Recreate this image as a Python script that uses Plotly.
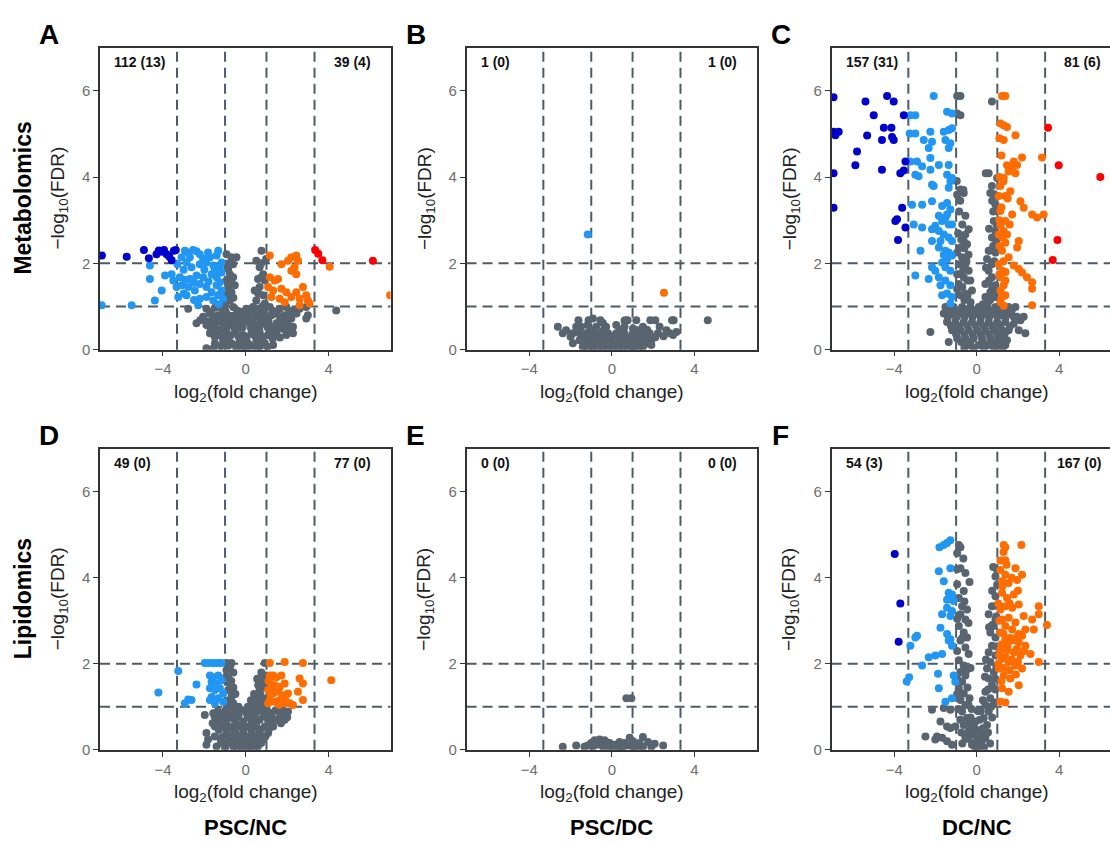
import plotly.graph_objects as go

W, H = 1110, 845
FONT = "Liberation Sans, Arial, Helvetica, sans-serif"

# ---------------- thresholds / ticks / labels ----------------
FC_LINES = [-3.32, -1.0, 1.0, 3.32]
FDR_LINES = [1.0, 2.0]
X_TICKS = [-4, 0, 4]
Y_TICKS = [0, 2, 4, 6]
PANEL_LETTERS = ["A", "B", "C", "D", "E", "F"]
ROW_LABELS = ["Metabolomics", "Lipidomics"]
COL_LABELS = ["PSC/NC", "PSC/DC", "DC/NC"]
COUNT_LEFT = ["112 (13)", "1 (0)", "157 (31)", "49 (0)", "0 (0)", "54 (3)"]
COUNT_RIGHT = ["39 (4)", "1 (0)", "81 (6)", "77 (0)", "0 (0)", "167 (0)"]

# ---------------- data (log2 fold change, -log10 FDR) ----------------
# Panel A  Metabolomics PSC/NC
A_grey = [(-0.93,2.21),(-0.69,2.14),(-0.61,1.98),(-0.85,1.87),(-0.77,1.75),(-0.93,1.60),(-0.85,1.45),(-0.69,1.33),
          (-0.93,1.26),(-0.77,1.14),(-0.98,1.07),(-0.61,1.68),(-0.53,1.49),(-0.45,2.14),
          (0.76,2.29),(0.51,2.06),(0.67,1.91),(0.84,1.75),(0.59,1.64),(0.92,1.60),(0.67,1.45),(0.43,1.37),(0.84,1.26),
          (0.51,1.14),(0.92,1.07),(0.35,0.99),(0.98,2.10),
          (-1.90,0.95),(-1.49,0.97),(-1.25,0.99),(-0.61,0.99),(0.03,0.95),(0.51,0.95),(1.16,0.99),(1.64,0.95),(1.96,0.99),
          (2.28,0.91),(2.60,0.95),
          (-2.06,0.76),(-1.73,0.84),(-1.33,0.80),(-0.93,0.84),(-0.53,0.80),(-0.13,0.76),(0.27,0.84),(0.67,0.80),(1.08,0.76),
          (1.48,0.84),(1.88,0.80),(2.20,0.72),
          (-2.38,0.61),(-1.90,0.57),(-1.49,0.61),(-1.09,0.64),(-0.69,0.57),(-0.29,0.61),(0.11,0.64),(0.51,0.57),(0.92,0.61),
          (1.32,0.53),(1.72,0.64),(2.04,0.57),(2.28,0.53),
          (-1.73,0.38),(-1.33,0.34),(-0.93,0.41),(-0.53,0.38),(-0.13,0.34),(0.27,0.38),(0.67,0.41),(1.08,0.34),(1.48,0.38),
          (1.96,0.34),
          (-1.49,0.15),(-1.09,0.18),(-0.69,0.15),(-0.29,0.18),(0.11,0.15),(0.51,0.18),(0.92,0.15),(1.32,0.11),(-0.45,0.03),
          (0.03,0.03),(0.51,0.03),
          (-2.78,0.95),(4.37,0.91),(2.92,0.99),(3.00,0.80),(2.92,0.72),(2.28,0.38),(-1.90,0.03),(-1.56,0.03),
          (-1.00,0.92),(-0.20,0.88),(0.60,0.88),(1.30,0.90),(-1.60,0.70),(-0.80,0.70),(0.00,0.70),(0.90,0.70),(1.70,0.72),
          (-1.20,0.48),(-0.40,0.48),(0.40,0.48),(1.20,0.45),(1.90,0.46),(-0.90,0.26),(-0.10,0.26),(0.70,0.26),(1.30,0.25),
          (-1.70,0.88),(-1.10,0.88),(-0.40,0.90),(0.30,0.88),(0.90,0.88),(1.50,0.88),(2.10,0.86),(2.45,0.84),
          (-1.90,0.66),(-1.50,0.77),(-1.10,0.77),(-0.70,0.78),(-0.30,0.78),(0.10,0.80),(0.50,0.76),(0.85,0.78),(1.25,0.80),
          (1.65,0.76),(2.05,0.74),
          (-2.20,0.68),(-1.75,0.62),(-1.30,0.66),(-0.90,0.62),(-0.50,0.66),(-0.10,0.63),(0.30,0.66),(0.70,0.65),(1.10,0.66),
          (1.50,0.62),(1.90,0.66),
          (-1.70,0.50),(-1.40,0.47),(-0.95,0.52),(-0.55,0.50),(-0.15,0.52),(0.25,0.50),(0.65,0.52),(1.05,0.52),(1.45,0.50),
          (1.75,0.49),(2.15,0.45),
          (-1.50,0.30),(-1.15,0.30),(-0.75,0.32),(-0.35,0.30),(0.05,0.30),(0.45,0.31),(0.85,0.30),(1.20,0.33),(1.65,0.28),
          (-1.20,0.08),(-0.85,0.09),(-0.50,0.10),(-0.15,0.08),(0.25,0.09),(0.70,0.08),(1.05,0.07),
          (-0.80,2.00),(-0.70,1.55),(-0.88,1.36),(-0.60,1.20),(0.75,2.00),(0.75,1.68),(0.60,1.30),(0.80,1.00)]
A_light = [(-2.94,2.29),(-2.78,2.25),(-2.54,2.31),(-2.38,2.28),(-2.22,2.21),(-1.82,2.25),(-1.33,2.29),(-1.41,2.18),
           (-3.10,2.14),(-2.70,2.14),(-2.06,2.12),(-1.73,2.14),
           (-4.63,1.95),(-3.30,1.98),(-2.86,2.02),(-2.62,1.91),(-2.22,1.98),(-1.90,2.02),(-1.57,1.95),(-1.25,1.91),(-1.17,2.02),
           (-4.63,1.64),(-3.90,1.72),(-3.58,1.75),(-3.18,1.68),(-2.94,1.62),(-2.70,1.64),(-2.38,1.72),(-2.06,1.68),
           (-1.65,1.75),(-1.41,1.68),(-1.17,1.79),(-3.50,1.60),
           (-4.06,1.37),(-3.34,1.45),(-3.10,1.49),(-2.78,1.45),(-2.46,1.37),(-2.22,1.52),(-1.90,1.45),(-1.65,1.33),
           (-1.41,1.49),(-1.17,1.37),(-1.25,1.56),
           (-4.39,1.14),(-3.26,1.22),(-2.86,1.26),(-2.22,1.18),(-1.90,1.22),(-1.57,1.14),(-1.33,1.26),(-1.09,1.18),
           (-2.30,1.03),(-5.51,1.03),(-6.96,1.03),
           (-3.00,1.85),(-2.00,1.85),(-1.50,1.82),(-2.50,1.55),(-1.80,1.58),(-3.00,1.30),(-2.50,1.15),(-1.30,1.05)]
A_dark = [(-6.95,2.18),(-5.75,2.15),(-4.92,2.31),(-4.68,2.12),(-4.31,2.21),(-4.06,2.27),(-3.95,2.31),(-3.82,2.21),
          (-3.58,2.07),(-3.47,2.29),(-3.38,2.31),(-4.20,2.30),(-3.70,2.16)]
A_orange = [(1.16,2.18),(1.72,1.98),(2.04,2.06),(2.20,2.14),(2.44,2.18),(2.52,2.06),(2.36,1.91),(2.20,1.83),(2.44,1.75),
            (1.16,1.68),(1.40,1.60),(1.56,1.64),(1.08,1.45),(1.32,1.37),(1.72,1.41),(1.96,1.33),(2.20,1.22),(2.44,1.33),
            (2.76,1.45),(2.92,1.26),(3.00,1.14),(2.60,1.18),(3.08,1.07),(2.60,1.03),(1.24,1.22),(1.64,1.18),(1.88,1.10),
            (4.05,1.92),(6.97,1.26)]
A_red = [(3.35,2.31),(3.50,2.22),(3.70,2.07),(6.14,2.06)]

# Panel B  Metabolomics PSC/DC
B_grey = [(-1.62,0.68),(-1.13,0.68),(-0.56,0.68),(0.65,0.68),(0.76,0.68),(1.86,0.68),(2.10,0.68),(2.91,0.68),(2.99,0.68),
          (4.64,0.68),(-0.92,0.72),(-0.44,0.62),(0.61,0.67),(1.18,0.68),
          (-2.62,0.53),(-2.22,0.45),(-1.73,0.53),(-1.49,0.53),(-1.17,0.57),(-0.76,0.53),(-0.28,0.53),(0.21,0.57),(0.61,0.53),
          (1.02,0.49),(1.50,0.53),(2.31,0.53),(2.64,0.45),(3.12,0.41),
          (-2.38,0.38),(-1.89,0.38),(-1.57,0.38),(-1.25,0.38),(-0.92,0.38),(-0.60,0.38),(-0.19,0.38),(0.21,0.38),(0.61,0.38),
          (1.02,0.38),(1.42,0.38),(1.83,0.38),(2.23,0.38),(2.80,0.38),(2.96,0.34),
          (-1.89,0.15),(-1.57,0.22),(-1.25,0.22),(-0.84,0.22),(-0.44,0.22),(-0.03,0.22),(0.37,0.22),(0.78,0.22),(1.18,0.22),
          (1.59,0.22),(1.91,0.22),
          (-1.41,0.07),(-0.92,0.07),(-0.44,0.07),(0.05,0.07),(0.53,0.07),(1.02,0.07),(1.50,0.07),(1.91,0.11),
          (-1.05,0.46),(-0.40,0.45),(0.40,0.46),(1.25,0.45),(1.70,0.46),
          (-2.00,0.30),(-1.40,0.29),(-1.05,0.31),(-0.65,0.30),(-0.30,0.29),(0.05,0.31),(0.45,0.30),(0.85,0.29),(1.30,0.31),
          (1.70,0.30),(2.10,0.29),(2.50,0.31),
          (-1.10,0.14),(-0.65,0.14),(-0.25,0.13),(0.20,0.14),(0.65,0.14),(1.00,0.13),(1.35,0.14),(1.70,0.14),
          (-1.20,0.02),(-0.70,0.02),(-0.20,0.02),(0.30,0.02),(0.80,0.02),(1.25,0.02)]
B_light = [(-1.17,2.67)]
B_dark = []
B_orange = [(2.52,1.32)]
B_red = []

# Panel C  Metabolomics DC/NC
C_grey = [(-0.95,5.88),(-0.79,5.88),(0.74,5.75),(-0.95,5.47),(-0.79,5.43),(-0.79,3.71),(-0.95,3.59),(-0.63,3.63),
          (0.58,4.09),(0.99,3.98),(0.74,3.79),(0.66,3.63),(0.91,3.36),(0.99,3.21),(0.83,2.98),(0.97,2.90),(0.91,2.75),
          (0.74,2.60),(0.58,2.29),(0.91,2.25),(0.50,2.10),(0.74,1.98),
          (-0.39,2.79),(-0.55,2.67),(-0.63,2.52),(-0.47,2.44),(-0.79,2.37),(-0.95,2.25),(-0.71,2.14),(-0.87,1.98),
          (-0.55,1.98),(-0.39,1.83),(-0.95,1.75),(-0.63,1.68),(-0.87,1.52),(-0.31,1.60),(-0.23,1.37),(-0.55,1.30),
          (-0.79,1.26),
          (0.58,1.83),(0.74,1.68),(0.42,1.52),(0.91,1.49),(0.66,1.33),(0.91,1.22),(0.42,1.22),
          (-1.52,0.99),(-1.12,0.99),(-0.71,0.99),(-0.31,0.99),(0.10,0.99),(0.50,0.99),(0.91,0.99),(1.23,0.99),(1.55,0.99),
          (1.88,0.99),
          (-1.60,0.84),(-1.20,0.84),(-0.79,0.84),(-0.39,0.84),(0.02,0.84),(0.42,0.84),(0.83,0.84),(1.23,0.80),(1.63,0.84),
          (1.96,0.76),(2.28,0.76),
          (-1.44,0.64),(-1.04,0.64),(-0.63,0.64),(-0.23,0.64),(0.18,0.64),(0.58,0.64),(0.99,0.64),(1.39,0.64),(1.80,0.60),
          (-1.20,0.45),(-0.79,0.45),(-0.39,0.45),(0.02,0.45),(0.42,0.45),(0.83,0.45),(1.23,0.45),(1.55,0.45),
          (-0.95,0.26),(-0.55,0.26),(-0.15,0.26),(0.26,0.26),(0.66,0.26),(1.07,0.26),(1.47,0.22),
          (-0.39,0.11),(0.10,0.11),(0.58,0.11),(1.07,0.11),(1.39,0.11),
          (-2.25,0.41),(-1.36,0.18),(2.04,0.45),(2.36,0.38),(2.12,0.68),
          (0.44,4.09),(-0.97,3.91),(-0.65,3.70),
          (-0.85,3.20),(-0.70,2.90),(-0.90,2.70),(-0.60,2.35),(-0.50,2.05),(-0.80,1.75),(-0.45,1.60),(-0.70,1.45),
          (-0.60,1.15),(-0.30,1.10),(0.85,3.60),(0.80,3.20),(0.95,2.50),(0.65,2.30),(0.85,2.05),(0.60,1.60),(0.85,1.35),
          (0.55,1.10),(0.30,1.05),
          (-1.35,0.92),(-0.95,0.91),(-0.50,0.92),(-0.10,0.91),(0.30,0.92),(0.70,0.91),(1.10,0.92),(1.40,0.90),(1.70,0.91),
          (-1.40,0.75),(-1.00,0.74),(-0.60,0.75),(-0.20,0.76),(0.20,0.74),(0.60,0.75),(1.00,0.76),(1.40,0.74),(1.80,0.76),
          (-1.25,0.55),(-0.85,0.54),(-0.45,0.55),(-0.05,0.56),(0.35,0.54),(0.75,0.55),(1.15,0.56),(1.60,0.53),
          (-1.00,0.36),(-0.60,0.35),(-0.20,0.36),(0.20,0.35),(0.60,0.36),(1.00,0.35),(1.35,0.36),
          (-0.75,0.18),(-0.30,0.18),(0.30,0.17),(0.80,0.18),(1.20,0.18),
          (-0.60,0.04),(-0.15,0.04),(0.35,0.04),(0.85,0.04),(1.25,0.04),
          (-0.80,3.45),(-0.55,3.10),(-0.75,2.55),(-0.40,2.20),(-0.65,1.85),(-0.95,1.40),(-0.45,1.25),
          (0.75,3.45),(0.60,2.80),(0.80,2.40),(0.45,1.90),(0.75,1.45),(0.65,1.15)]
C_light = [(-2.09,5.88),(-1.44,5.51),(-1.20,5.47),(-3.22,5.43),(-2.98,5.43),(-1.36,5.09),(-1.60,5.05),(-1.20,5.13),
           (-2.25,5.05),(-3.25,5.01),(-2.98,5.01),(-2.57,4.86),(-2.17,4.82),(-1.52,4.86),(-1.28,4.78),(-2.33,4.67),
           (-1.36,4.67),(-3.22,4.36),(-2.90,4.36),(-2.65,4.25),(-2.25,4.44),(-1.84,4.28),(-2.25,4.17),(-2.98,4.05),
           (-2.82,4.02),(-1.36,4.28),(-1.44,4.05),(-1.20,3.98),(-1.36,3.75),(-1.28,3.90),(-2.17,3.82),(-2.09,3.79),
           (-3.14,3.36),(-2.65,3.36),(-2.17,3.44),(-1.68,3.33),(-1.44,3.40),(-1.28,3.25),(-1.44,3.13),(-1.84,3.10),
           (-1.68,2.98),(-1.52,3.06),(-1.36,2.90),(-1.20,2.90),(-3.06,2.90),(-2.65,2.83),(-2.17,2.79),(-2.01,2.87),
           (-1.84,2.75),(-1.60,2.67),(-1.36,2.60),(-1.20,2.52),(-1.76,2.52),(-2.17,2.52),(-2.73,2.29),(-1.84,2.37),
           (-1.52,2.29),(-1.36,2.25),(-1.20,2.18),(-1.44,2.10),(-1.68,2.02),(-2.17,1.91),(-2.01,1.83),(-1.52,1.91),
           (-1.28,1.83),(-2.98,1.72),(-2.33,1.64),(-1.84,1.68),(-1.52,1.60),(-1.76,1.49),(-1.28,1.49),(-1.68,1.26),
           (-1.44,1.30),(-1.20,1.22),(-1.28,1.07),(-1.60,2.20)]
C_dark = [(-6.95,5.85),(-5.40,5.75),(-4.35,5.88),(-4.03,5.75),(-5.00,5.43),(-3.54,5.43),(-6.95,5.05),(-6.70,5.05),
          (-6.86,4.97),(-5.32,4.96),(-4.51,5.14),(-4.14,5.14),(-4.60,4.86),(-4.11,4.93),(-4.03,4.86),(-5.81,4.59),
          (-5.89,4.27),(-4.60,4.17),(-3.71,4.09),(-3.54,4.15),(-3.46,4.36),(-6.95,4.09),(-6.95,3.29),(-3.62,3.29),
          (-3.95,2.98),(-3.87,3.02),(-3.46,2.83),(-3.82,2.54)]
C_orange = [(1.23,5.88),(1.39,5.88),(1.15,5.24),(1.31,5.20),(1.47,5.16),(1.88,4.97),(1.31,4.86),(2.20,4.45),(3.17,4.45),
            (1.80,4.36),(1.96,4.28),(1.47,4.27),(1.72,4.21),(1.55,4.13),(1.88,4.09),(1.31,3.98),(1.15,3.79),(1.07,3.56),
            (1.39,3.56),(1.63,3.67),(2.12,3.44),(2.28,3.29),(2.69,3.13),(2.93,3.06),(3.25,3.13),(1.15,3.21),(1.72,3.13),
            (1.39,2.98),(1.15,2.87),(1.31,2.75),(1.47,2.67),(1.07,2.67),(2.04,2.52),(1.39,2.48),(1.23,2.29),(1.55,2.14),
            (1.80,1.95),(2.04,1.87),(2.20,1.79),(1.07,1.98),(1.23,1.83),(1.15,1.68),(1.39,1.60),(1.31,1.49),(1.15,1.37),
            (1.39,1.26),(2.44,1.68),(2.69,1.56),(2.69,1.41),(2.69,1.03),(1.15,1.10),(1.31,1.02),(1.96,2.37),
            (1.10,4.90),(1.20,4.50),(1.10,4.00),(1.30,3.90),(1.50,3.50),(1.20,3.30),(1.10,3.00),(1.25,2.60),(1.10,2.40),
            (1.30,2.05),(1.10,1.75),(1.20,1.20),(1.40,1.80),(1.60,2.90)]
C_red = [(3.46,5.14),(3.98,4.27),(6.00,4.00),(3.92,2.54),(3.69,2.08)]

# Panel D  Lipidomics PSC/NC
D_grey = [(-0.93,2.02),(-0.69,2.02),(0.92,2.02),(-0.93,1.85),(-0.85,1.69),(-0.77,1.54),(-0.85,1.39),(-0.69,1.23),
          (-0.61,1.08),(-0.53,0.93),(-0.93,0.98),
          (0.84,1.73),(0.98,1.73),(0.76,1.58),(0.92,1.46),(0.67,1.39),(0.51,1.23),(0.84,1.20),(0.35,1.08),(0.67,1.04),
          (0.19,0.93),(0.51,0.89),(0.92,0.93),
          (-1.57,0.85),(-1.17,0.81),(-0.77,0.81),(-0.37,0.85),(0.03,0.85),(0.43,0.81),(0.84,0.85),(1.24,0.85),(1.64,0.85),
          (2.04,0.89),
          (-1.33,0.70),(-0.93,0.66),(-0.53,0.70),(-0.13,0.66),(0.27,0.70),(0.67,0.70),(1.08,0.69),(1.48,0.70),(1.88,0.70),
          (-1.49,0.54),(-1.09,0.54),(-0.69,0.53),(-0.29,0.54),(0.11,0.54),(0.51,0.53),(0.92,0.54),(1.32,0.54),
          (-1.90,0.39),(-0.93,0.39),(-0.53,0.39),(-0.13,0.39),(0.27,0.39),(0.67,0.39),(1.08,0.39),
          (-1.82,0.24),(-0.69,0.24),(-0.29,0.24),(0.11,0.24),(0.51,0.24),(0.84,0.24),
          (-1.41,0.08),(-0.61,0.08),(-0.21,0.08),(0.19,0.08),(0.59,0.08),
          (-1.98,0.81),(-1.90,0.12),(-1.23,0.27),
          (-0.75,1.95),(-0.60,1.80),(-0.70,1.60),(-0.60,1.45),(-0.50,1.30),(0.75,1.80),(0.60,1.50),(0.40,1.30),(0.25,1.15),
          (0.10,1.00),(-0.35,1.00),(-0.80,1.15),
          (-1.00,0.90),(-0.20,0.92),(0.60,0.95),(1.45,0.92),(-0.70,0.75),(0.10,0.75),(0.90,0.78),(1.70,0.78),(-1.30,0.60),
          (-0.50,0.62),(0.30,0.62),(1.10,0.60),(-0.90,0.47),(-0.10,0.47),(0.70,0.47),(-0.40,0.32),(0.40,0.32),(-0.90,0.16),
          (0.00,0.16),(0.40,0.16),(-1.10,0.30),
          (-1.35,0.90),(-0.60,0.88),(0.35,0.90),(1.05,0.90),(1.80,0.90),
          (-1.50,0.77),(-1.10,0.76),(-0.35,0.78),(0.45,0.77),(1.25,0.77),(2.00,0.76),
          (-1.60,0.62),(-0.95,0.61),(-0.15,0.60),(0.50,0.62),(1.30,0.63),(1.70,0.62),
          (-1.30,0.46),(-0.50,0.46),(0.30,0.46),(1.10,0.46),
          (-1.50,0.31),(-0.75,0.31),(0.00,0.31),(0.55,0.31),(0.95,0.31),
          (-1.20,0.16),(-0.45,0.16),(0.20,0.16),(0.75,0.16),
          (-1.00,0.03),(-0.40,0.03),(0.00,0.03),(0.40,0.03),
          (0.55,1.65),(0.70,1.30),(0.45,1.15),(0.80,1.10),(0.90,1.55),(0.30,0.98),(-0.95,1.70),(-0.70,1.35),(-0.75,1.00)]
D_light = [(-3.26,1.83),(-4.22,1.33),(-2.38,1.52),(-2.78,1.17),(-2.94,1.08),(-2.62,1.16),
           (-1.98,2.02),(-1.82,2.02),(-1.65,2.02),(-1.49,2.02),(-1.33,2.02),(-1.17,2.02),
           (-1.73,1.73),(-1.57,1.69),(-1.33,1.73),(-1.65,1.58),(-1.41,1.54),(-1.17,1.62),(-1.73,1.43),(-1.49,1.39),
           (-1.25,1.43),(-1.09,1.31),(-1.65,1.23),(-1.33,1.20),(-1.09,1.12),(-1.49,1.08),(-1.73,1.16)]
D_dark = []
D_orange = [(1.16,2.02),(1.88,2.04),(2.76,2.02),(4.13,1.62),
            (1.16,1.73),(1.32,1.73),(1.48,1.69),(1.72,1.73),(1.88,1.54),(1.16,1.58),(1.40,1.50),(1.64,1.46),(1.08,1.39),
            (1.32,1.31),(1.56,1.35),(1.80,1.27),(2.04,1.31),(1.16,1.16),(1.40,1.12),(1.64,1.16),(1.88,1.08),(2.12,1.08),
            (2.28,1.04),(1.08,1.08),(2.60,1.66),(2.76,1.54),(2.52,1.35),(2.76,1.16),
            (1.10,1.60),(1.30,1.45),(1.90,1.20),(1.20,1.30),(1.60,1.05)]
D_red = []

# Panel E  Lipidomics PSC/DC
E_grey = [(0.70,1.20),(0.94,1.20),
          (-2.38,0.07),(-1.73,0.10),(-1.33,0.07),(-1.00,0.16),(-0.84,0.22),(-0.60,0.24),(-0.36,0.22),(-0.11,0.16),
          (0.13,0.12),(0.37,0.18),(0.61,0.16),(0.86,0.28),(1.02,0.20),(1.18,0.12),(1.50,0.30),(1.75,0.18),(2.07,0.14),
          (2.48,0.10),(-0.92,0.08),(-0.44,0.08),(0.05,0.07),(0.53,0.07),(1.02,0.07),(1.50,0.07),(1.91,0.07),(-1.17,0.10),
          (-0.28,0.18),(0.29,0.08),(0.78,0.10),(1.34,0.16),(-0.75,0.12),(-0.15,0.05),(0.45,0.04),(1.25,0.05)]
E_light, E_dark, E_orange, E_red = [], [], [], []

# Panel F  Lipidomics DC/NC
F_grey = [(-0.87,4.76),(-0.79,4.71),(-0.95,4.57),(-0.79,4.22),(-0.55,4.11),(-0.63,3.69),(-0.87,3.53),(-0.71,3.34),
          (-0.47,3.26),(-0.79,3.15),(-0.55,3.03),(-0.87,2.88),(-0.63,2.73),(-0.47,2.61),(-0.79,2.54),(-0.55,2.38),
          (-0.39,2.23),(-0.87,2.08),(-0.63,1.96),(-0.79,1.81),(-0.55,1.73),(-0.71,1.58),(-0.87,1.43),(-0.63,1.31),
          (-0.79,1.16),(-0.55,1.04),(-0.71,0.89),(-0.47,0.74),(-0.63,0.58),(-0.39,0.43),(-0.55,0.28),(-0.23,0.12),
          (0.99,4.18),(0.91,4.03),(0.99,3.84),(0.91,3.57),(0.74,3.34),(0.58,3.15),(0.91,3.03),(0.83,2.88),(0.66,2.73),
          (0.91,2.61),(0.74,2.42),(0.58,2.27),(0.91,2.19),(0.66,2.04),(0.50,1.89),(0.83,1.81),(0.58,1.66),(0.74,1.50),
          (0.42,1.35),(0.66,1.20),(0.42,1.04),(0.58,0.89),(0.34,0.74),(0.50,0.58),(0.26,0.43),(0.42,0.28),(0.18,0.12),
          (-0.06,0.05),(0.10,0.28),(-0.15,0.43),(-0.06,0.66),
          (-2.17,0.93),(-1.60,0.97),(-1.28,0.93),(-1.76,0.66),(-1.44,0.54),(-1.28,0.51),(-1.04,0.54),(-2.49,0.31),
          (-1.93,0.31),(-1.68,0.28),(-1.44,0.20),(-1.20,0.12),(-2.01,0.24),
          (-0.35,3.90),(-0.40,2.95),(-0.30,1.90),(-0.35,1.20),(0.95,3.35),(0.75,2.90),(0.90,1.40),(0.70,1.00),
          (-0.30,0.75),(0.15,0.70),(-0.20,0.35),(0.25,0.20),(0.00,0.20),(-0.10,0.50),(0.30,0.50),(0.05,0.05),
          (-0.95,4.20),(-0.65,4.45),(-0.95,3.85),(-0.60,3.45),(-0.95,3.05),(-0.70,2.60),(-0.95,2.30),(-0.50,1.85),
          (-0.95,1.65),(-0.45,1.45),(-0.95,1.30),(-0.40,1.05),(-0.90,0.95),(-0.80,0.70),(-0.75,0.40),(-0.35,0.60),
          (-0.40,0.25),(-0.70,0.15),
          (0.80,4.25),(0.75,3.70),(0.95,3.10),(0.60,2.85),(0.95,2.40),(0.45,2.10),(0.95,1.95),(0.40,1.70),(0.90,1.65),
          (0.55,1.40),(0.85,1.10),(0.30,1.15),(0.75,0.75),(0.20,0.90),(0.55,0.40),(0.35,0.05),(0.65,0.15),
          (-0.25,0.95),(0.05,0.90),(-0.15,0.15),(0.15,0.45)]
F_light = [(-1.81,4.71),(-1.60,4.76),(-1.44,4.81),(-1.28,4.87),(-1.28,4.22),(-1.84,4.15),(-1.60,3.92),(-1.36,3.65),
           (-1.20,3.61),(-1.44,3.49),(-1.12,3.46),(-1.44,3.30),(-1.68,3.15),(-1.28,3.11),(-1.20,3.23),(-1.76,2.84),
           (-1.44,2.69),(-1.36,2.54),(-1.20,2.42),(-1.28,2.57),(-2.90,2.65),(-2.98,2.61),(-3.22,2.42),(-3.28,1.69),
           (-3.40,1.59),(-2.65,1.96),(-2.33,2.15),(-2.01,2.19),(-1.68,2.23),(-1.88,1.77),(-1.84,1.43),(-1.52,1.12),
           (-1.20,1.20),(-1.12,1.73),(-1.04,1.58)]
F_dark = [(-3.98,4.55),(-3.71,3.40),(-3.79,2.51)]
F_orange = [(1.31,4.76),(1.39,4.71),(2.17,4.76),(1.39,4.41),(1.15,4.18),(1.88,4.22),(2.20,4.07),(1.39,4.07),(1.23,3.92),
            (1.55,3.88),(1.96,3.95),(1.23,3.65),(1.47,3.53),(1.80,3.61),(1.39,3.34),(1.15,3.26),(1.72,3.30),(2.04,3.38),
            (2.28,3.11),(1.23,3.03),(1.55,3.07),(1.88,2.96),(1.39,2.88),(1.15,2.73),(1.72,2.80),(2.04,2.69),(2.36,2.80),
            (2.69,3.03),(3.01,3.34),(3.01,3.15),(3.41,2.90),(2.77,2.80),(1.39,2.57),(1.72,2.54),(2.04,2.50),(2.36,2.42),
            (2.61,2.23),(1.15,2.34),(1.47,2.31),(1.80,2.27),(2.12,2.19),(1.23,2.11),(1.55,2.04),(1.88,1.96),(2.20,1.89),
            (1.07,1.89),(1.31,1.73),(1.63,1.66),(2.04,1.50),(1.23,1.43),(1.55,1.35),(1.15,1.12),(1.39,1.10),(3.01,2.04),
            (1.10,3.00),(1.30,2.70),(1.60,2.60),(1.90,2.60),(2.20,2.65),(1.20,2.45),(1.50,2.40),(1.95,2.35),(2.30,2.30),
            (1.10,2.20),(1.40,2.15),(1.70,2.10),(2.00,2.05),(1.30,1.90),(1.60,1.85),(1.90,1.75),(1.20,1.60),(1.05,3.40),
            (1.60,3.40),(1.25,3.80),(1.15,4.40),(1.30,4.60),(1.45,4.30),(1.70,4.00),(2.00,3.70),(1.05,2.00)]
F_red = []

PANELS = [
    dict(grey=A_grey, light=A_light, orange=A_orange, dark=A_dark, red=A_red),
    dict(grey=B_grey, light=B_light, orange=B_orange, dark=B_dark, red=B_red),
    dict(grey=C_grey, light=C_light, orange=C_orange, dark=C_dark, red=C_red),
    dict(grey=D_grey, light=D_light, orange=D_orange, dark=D_dark, red=D_red),
    dict(grey=E_grey, light=E_light, orange=E_orange, dark=E_dark, red=E_red),
    dict(grey=F_grey, light=F_light, orange=F_orange, dark=F_dark, red=F_red),
]

# ---------------- style ----------------
COLORS = {"grey": "#58646f", "light": "#2196f3", "dark": "#0000cd",
          "orange": "#ff6d00", "red": "#ff0000"}
DASH_COLOR = "#4e5b69"
AXIS_COLOR = "#333333"
TICK_FONT_COLOR = "#6e6e6e"

# panel geometry in pixels
COL_PX = [(100, 390.5), (466.5, 756.5), (831.7, 1110)]
X_RANGES = [(-7.04, 6.99), (-7.04, 7.0), (-7.04, 6.47)]
ROW_PX = [(48, 353), (453, 757)]
Y_RANGE = (0, 7.0)


def px_x(p):
    return p / W


def px_y(p):
    return 1 - p / H


fig = go.Figure()
layout = {}
annotations = []
shapes = []

for i in range(6):
    r, c = divmod(i, 3)
    n = "" if i == 0 else str(i + 1)
    xa, ya = "x" + n, "y" + n
    x0p, x1p = COL_PX[c]
    y0p, y1p = ROW_PX[r]
    axis_common = dict(ticks="outside", ticklen=5, tickwidth=1.4, tickcolor=AXIS_COLOR,
                       showline=True, linecolor=AXIS_COLOR, linewidth=1.5,
                       showgrid=False, zeroline=False,
                       tickfont=dict(family=FONT, size=15, color=TICK_FONT_COLOR))
    layout["xaxis" + n] = dict(domain=[px_x(x0p), px_x(x1p)], range=list(X_RANGES[c]), anchor=ya,
                               tickvals=X_TICKS, mirror=True, **axis_common)
    layout["yaxis" + n] = dict(domain=[px_y(y1p), px_y(y0p)], range=list(Y_RANGE), anchor=xa,
                               tickvals=Y_TICKS, mirror=(c < 2), **axis_common)

    for key in ["grey", "light", "orange", "dark", "red"]:
        pts = PANELS[i][key]
        if not pts:
            continue
        fig.add_trace(go.Scatter(
            x=[p[0] for p in pts], y=[p[1] for p in pts], mode="markers",
            marker=dict(color=COLORS[key], size=8, line=dict(width=0)),
            xaxis=xa, yaxis=ya, showlegend=False, hoverinfo="skip"))

    for v in FC_LINES:
        shapes.append(dict(type="line", xref=xa, yref=ya + " domain", x0=v, x1=v, y0=0, y1=1,
                           line=dict(color=DASH_COLOR, width=2, dash="10px,6px"), layer="below"))
    for h in FDR_LINES:
        shapes.append(dict(type="line", xref=xa + " domain", yref=ya, x0=0, x1=1, y0=h, y1=h,
                           line=dict(color=DASH_COLOR, width=2, dash="10px,6px"), layer="below"))

    # count labels
    annotations.append(dict(xref=xa, yref=ya, x=-6.45, y=6.67, xanchor="left", yanchor="middle",
                            text="<b>%s</b>" % COUNT_LEFT[i], showarrow=False,
                            font=dict(family=FONT, size=14, color="#111111")))
    annotations.append(dict(xref=xa, yref=ya, x=6.15, y=6.67, xanchor="right", yanchor="middle",
                            text="<b>%s</b>" % COUNT_RIGHT[i], showarrow=False,
                            font=dict(family=FONT, size=14, color="#111111")))
    # axis titles
    annotations.append(dict(xref="paper", yref="paper", x=px_x(x0p - 41), y=px_y((y0p + y1p) / 2),
                            xanchor="center", yanchor="middle", textangle=-90,
                            text="\u2212log<sub>10</sub>(FDR)", showarrow=False,
                            font=dict(family=FONT, size=19, color="#222222")))
    annotations.append(dict(xref=xa, yref="paper", x=0, y=px_y(y1p + 44),
                            xanchor="center", yanchor="middle",
                            text="log<sub>2</sub>(fold change)", showarrow=False,
                            font=dict(family=FONT, size=19, color="#222222")))
    # panel letter
    annotations.append(dict(xref="paper", yref="paper", x=px_x(x0p - 51), y=px_y(y0p - 13),
                            xanchor="center", yanchor="middle", text="<b>%s</b>" % PANEL_LETTERS[i],
                            showarrow=False, font=dict(family=FONT, size=28, color="#000000")))

# row labels
for r, lab in enumerate(ROW_LABELS):
    y0p, y1p = ROW_PX[r]
    annotations.append(dict(xref="paper", yref="paper", x=px_x(23), y=px_y((y0p + y1p) / 2),
                            xanchor="center", yanchor="middle", textangle=-90,
                            text="<b>%s</b>" % lab, showarrow=False,
                            font=dict(family=FONT, size=23, color="#000000")))
# column labels
for c, lab in enumerate(COL_LABELS):
    annotations.append(dict(xref="x" + str(c + 4), yref="paper", x=0, y=px_y(835),
                            xanchor="center", yanchor="middle",
                            text="<b>%s</b>" % lab, showarrow=False,
                            font=dict(family=FONT, size=22, color="#000000")))

fig.update_layout(
    width=W, height=H,
    margin=dict(l=0, r=0, t=0, b=0),
    paper_bgcolor="white", plot_bgcolor="white",
    font=dict(family=FONT),
    showlegend=False,
    annotations=annotations,
    shapes=shapes,
    **layout,
)

fig.write_html("out.html")
